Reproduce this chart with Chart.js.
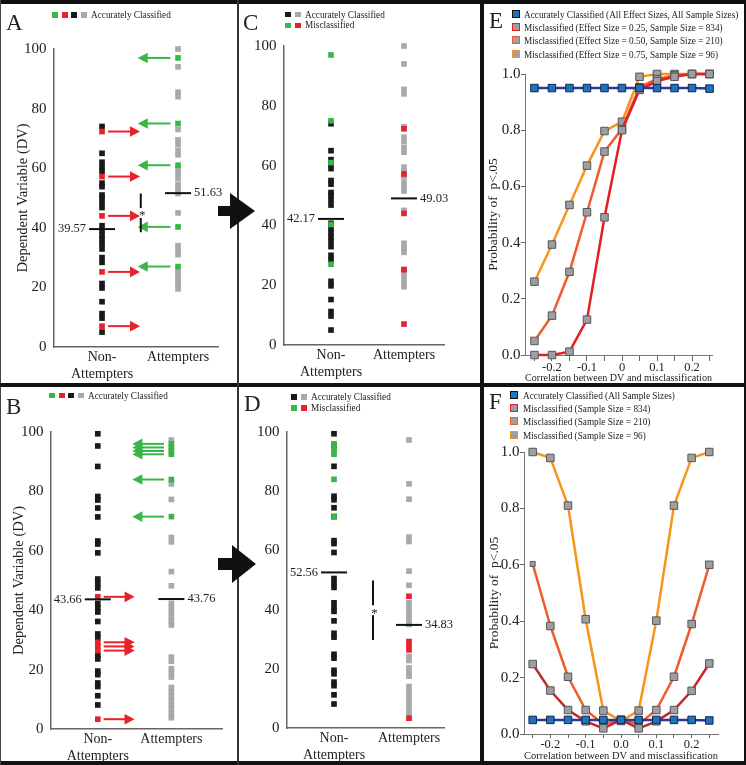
<!DOCTYPE html>
<html>
<head>
<meta charset="utf-8">
<script src="https://cdn.jsdelivr.net/npm/chart.js@4.4.1/dist/chart.umd.min.js"></script>
<style>
  body { margin: 0; background: #fff; }
  #fig { position: relative; width: 746px; height: 765px; overflow: hidden; font-family: "Liberation Serif", serif; color: #222; }
  #fig canvas { position: absolute; }
  .rule { position: absolute; background: #111; z-index: 3; }
  .letter { position: absolute; font-size: 23px; line-height: 23px; z-index: 4; }
  .lg { position: absolute; font-size: 11px; line-height: 11px; white-space: nowrap; z-index: 4; transform: scaleX(0.84); transform-origin: 0 0; }
  .sq { position: absolute; width: 5.5px; height: 5.5px; z-index: 4; }
  .sw { position: absolute; width: 6px; height: 6px; z-index: 4; border: 1.5px solid; }
</style>
</head>
<body>
<div id="fig">
  <canvas id="chartA" width="236" height="379" style="left:1px;top:4px"></canvas>
  <canvas id="chartC" width="241" height="379" style="left:239px;top:4px"></canvas>
  <canvas id="chartE" width="260" height="379" style="left:484px;top:4px"></canvas>
  <canvas id="chartB" width="236" height="374" style="left:1px;top:387px"></canvas>
  <canvas id="chartD" width="241" height="374" style="left:239px;top:387px"></canvas>
  <canvas id="chartF" width="260" height="374" style="left:484px;top:387px"></canvas>

  <!-- panel frame -->
  <div class="rule" style="left:0;top:0;width:746px;height:4px"></div>
  <div class="rule" style="left:0;top:761px;width:746px;height:4px"></div>
  <div class="rule" style="left:0;top:0;width:1px;height:765px;background:#444"></div>
  <div class="rule" style="left:744px;top:0;width:2px;height:765px"></div>
  <div class="rule" style="left:0;top:383px;width:746px;height:4px"></div>
  <div class="rule" style="left:237px;top:0;width:2px;height:765px;background:#333"></div>
  <div class="rule" style="left:480px;top:0;width:4px;height:765px"></div>

  <svg style="position:absolute;left:0;top:0;z-index:5" width="746" height="765">
    <polygon points="218,206 230,206 230,193 255,211 230,229 230,216 218,216" fill="#111"/>
    <polygon points="218,558 232,558 232,545 256,564 232,583 232,570 218,570" fill="#111"/>
  </svg>

  <div class="letter" style="left:6px;top:10.7px">A</div>
  <div class="letter" style="left:243px;top:10.7px">C</div>
  <div class="letter" style="left:489px;top:8.7px">E</div>
  <div class="letter" style="left:6px;top:395.4px">B</div>
  <div class="letter" style="left:244px;top:392px">D</div>
  <div class="letter" style="left:489px;top:390.4px">F</div>

  <!-- legend A -->
  <div class="sq" style="left:52px;top:12px;background:#39b54a"></div>
  <div class="sq" style="left:62px;top:12px;background:#e8212b"></div>
  <div class="sq" style="left:71px;top:12px;background:#1a1a1a"></div>
  <div class="sq" style="left:81px;top:12px;background:#a7a9ac"></div>
  <div class="lg" style="left:91px;top:9px">Accurately Classified</div>
  <!-- legend C -->
  <div class="sq" style="left:285px;top:11.5px;background:#1a1a1a"></div>
  <div class="sq" style="left:295px;top:11.5px;background:#a7a9ac"></div>
  <div class="lg" style="left:305px;top:8.5px">Accurately Classified</div>
  <div class="sq" style="left:285px;top:22.5px;background:#39b54a"></div>
  <div class="sq" style="left:295px;top:22.5px;background:#e8212b"></div>
  <div class="lg" style="left:305px;top:19px">Misclassified</div>
  <!-- legend B -->
  <div class="sq" style="left:49px;top:392.5px;background:#39b54a"></div>
  <div class="sq" style="left:59px;top:392.5px;background:#e8212b"></div>
  <div class="sq" style="left:68px;top:392.5px;background:#1a1a1a"></div>
  <div class="sq" style="left:78px;top:392.5px;background:#a7a9ac"></div>
  <div class="lg" style="left:88px;top:389.5px">Accurately Classified</div>
  <!-- legend D -->
  <div class="sq" style="left:291px;top:394px;background:#1a1a1a"></div>
  <div class="sq" style="left:301px;top:394px;background:#a7a9ac"></div>
  <div class="lg" style="left:311px;top:391px">Accurately Classified</div>
  <div class="sq" style="left:291px;top:405px;background:#39b54a"></div>
  <div class="sq" style="left:301px;top:405px;background:#e8212b"></div>
  <div class="lg" style="left:311px;top:402px">Misclassified</div>
  <!-- legend E -->
  <div class="sw" style="left:512px;top:9.5px;background:#1c75bc;border-color:#111"></div>
  <div class="lg" style="left:524px;top:8.5px">Accurately Classified (All Effect Sizes, All Sample Sizes)</div>
  <div class="sw" style="left:512px;top:22.5px;background:#9d9fa2;border-color:#e41e26"></div>
  <div class="lg" style="left:524px;top:21.5px">Misclassified (Effect Size = 0.25, Sample Size = 834)</div>
  <div class="sw" style="left:512px;top:36px;background:#9d9fa2;border-color:#f15a29"></div>
  <div class="lg" style="left:524px;top:35px">Misclassified (Effect Size = 0.50, Sample Size = 210)</div>
  <div class="sw" style="left:512px;top:49.5px;background:#9d9fa2;border-color:#f7941d"></div>
  <div class="lg" style="left:524px;top:48.5px">Misclassified (Effect Size = 0.75, Sample Size = 96)</div>
  <!-- legend F -->
  <div class="sw" style="left:510px;top:390.5px;background:#1c75bc;border-color:#111"></div>
  <div class="lg" style="left:523px;top:389.5px">Accurately Classified (All Sample Sizes)</div>
  <div class="sw" style="left:510px;top:403.5px;background:#9d9fa2;border-color:#e41e26"></div>
  <div class="lg" style="left:523px;top:402.5px">Misclassified (Sample Size = 834)</div>
  <div class="sw" style="left:510px;top:417px;background:#9d9fa2;border-color:#f15a29"></div>
  <div class="lg" style="left:523px;top:416px">Misclassified (Sample Size = 210)</div>
  <div class="sw" style="left:510px;top:430.5px;background:#9d9fa2;border-color:#f7941d"></div>
  <div class="lg" style="left:523px;top:429.5px">Misclassified (Sample Size = 96)</div>
</div>

<script>
// strip plots: groups and DV values
const groupX = [1, 2];
const groupLabels = [['Non-', 'Attempters'], 'Attempters'];

// panel A: original classification (red = misclassified non-attempters, green = misclassified attempters)
const nonAttBlackA = [74, 65, 62, 60.5, 59, 55, 53.8, 51, 50, 48.5, 46.8, 40.7, 39.1, 37.6, 36.1, 34.6, 32.9, 30, 28.4, 21.3, 19.8, 15.2, 11.2, 9.7, 5];
const nonAttRedA = [72.3, 57.2, 44, 25.2, 7];
const attGrayA = [100, 94, 85.5, 84, 73, 69.5, 68, 66, 64.5, 59.5, 58, 56.5, 54.5, 53, 51.5, 45, 34, 32.5, 31, 25.3, 23.8, 22.3, 20.8, 19.5];
const attGreenA = [97, 75, 61, 40.3, 27];
const meansA = [39.57, 51.63];
const meansC = [42.17, 49.03];
const sigA = [38.5, 51.5];

// panel B
const nonAttBlackB = [99.4, 95.3, 88.4, 78.3, 77.1, 74.4, 71.4, 63.3, 62.3, 59.3, 50.5, 49, 47.5, 42.3, 40.8, 39.4, 36.2, 32, 30.7, 24.9, 23.6, 19.5, 18.3, 15.5, 14.3, 11.2, 8.1];
const nonAttRedB = [44.5, 29.2, 27.8, 26.4, 3.3];
const attGrayB = [97.3, 82.5, 77.3, 64.5, 63, 53, 48.2, 42.3, 40.8, 39.3, 37.8, 36.3, 35, 24.2, 22.8, 20.3, 18.8, 17.5, 14, 12.5, 11, 9.5, 8, 6.5, 5, 3.8];
const attGreenB = [96, 94.8, 93.6, 92.5, 84, 71.5];
const meansB = [43.66, 43.76];
const meansD = [52.56, 34.83];
const sigD = [29.7, 49.8];

// simulation panels
const corrX = [-0.25, -0.2, -0.15, -0.1, -0.05, 0, 0.05, 0.1, 0.15, 0.2, 0.25];
const eAccurate = [0.95, 0.95, 0.95, 0.95, 0.95, 0.95, 0.95, 0.95, 0.95, 0.95, 0.948];
const eMis834 = [0.0, 0.0, 0.012, 0.126, 0.49, 0.80, 0.943, 0.975, 0.99, 1.0, 1.0];
const eMis210 = [0.05, 0.14, 0.296, 0.508, 0.724, 0.805, 0.953, 0.982, 0.995, 1.0, 1.0];
const eMis96 = [0.261, 0.393, 0.534, 0.674, 0.797, 0.83, 0.99, 1.0, 1.0, 1.0, 1.0];
const fAccurate = [0.05, 0.05, 0.05, 0.05, 0.05, 0.05, 0.05, 0.05, 0.05, 0.05, 0.048];
const fMis834 = [0.248, 0.154, 0.085, 0.045, 0.02, 0.05, 0.02, 0.045, 0.085, 0.153, 0.25];
const fMis210 = [0.603, 0.383, 0.203, 0.085, 0.035, 0.05, 0.035, 0.085, 0.203, 0.39, 0.60];
const fMis96 = [1.0, 0.979, 0.81, 0.407, 0.083, 0.046, 0.083, 0.402, 0.81, 0.979, 1.0];
const probTicks = [0, 0.2, 0.4, 0.6, 0.8, 1.0];

const GREEN = '#39b54a', RED = '#e8212b', BLACK = '#1a1a1a', GRAY = '#a7a9ac';
const NAVY = '#2b3990', BLUE = '#1c75bc', MARK = '#9d9fa2';
const LINE834 = '#e41e26', LINE210 = '#f15a29', LINE96 = '#f7941d';
const SERIF = '"Liberation Serif", serif';

Chart.defaults.font.family = SERIF;
Chart.defaults.color = '#222';

const extras = {};

// arrows, mean labels and significance bar on the strip plots
const stripExtras = {
    id: 'stripExtras',
    afterDatasetsDraw(chart) {
        const ex = extras[chart.canvas.id];
        if (!ex) return;
        const {ctx} = chart;
        const x = chart.scales.x, y = chart.scales.y;
        ctx.save();
        ex.arrows.forEach(a => {
            const x1 = x.getPixelForValue(a.from), x2 = x.getPixelForValue(a.to);
            const py = y.getPixelForValue(a.y);
            const dir = Math.sign(x2 - x1);
            ctx.strokeStyle = a.color;
            ctx.fillStyle = a.color;
            ctx.lineWidth = 2;
            ctx.beginPath();
            ctx.moveTo(x1, py);
            ctx.lineTo(x2 - dir * 9, py);
            ctx.stroke();
            ctx.beginPath();
            ctx.moveTo(x2, py);
            ctx.lineTo(x2 - dir * 10, py - 5.3);
            ctx.lineTo(x2 - dir * 10, py + 5.3);
            ctx.closePath();
            ctx.fill();
        });
        ctx.fillStyle = '#222';
        ctx.font = '12.5px ' + SERIF;
        ctx.textBaseline = 'middle';
        ex.means.forEach((m, i) => {
            const px = x.getPixelForValue(groupX[i]), py = y.getPixelForValue(m);
            if (i === 0) {
                ctx.textAlign = 'right';
                ctx.fillText(m.toFixed(2), px - 16, py);
            } else {
                ctx.textAlign = 'left';
                ctx.fillText(m.toFixed(2), px + 16, py);
            }
        });
        if (ex.sig) {
            const sx = x.getPixelForValue(ex.sigX);
            const top = y.getPixelForValue(ex.sig[1]), bot = y.getPixelForValue(ex.sig[0]);
            const mid = (top + bot) / 2;
            ctx.strokeStyle = '#111';
            ctx.lineWidth = 2;
            ctx.beginPath();
            ctx.moveTo(sx, top); ctx.lineTo(sx, mid - 5);
            ctx.moveTo(sx, mid + 5); ctx.lineTo(sx, bot);
            ctx.stroke();
            ctx.font = '13px ' + SERIF;
            ctx.textAlign = 'center';
            ctx.fillText('*', sx + 1.5, mid + 3);
        }
        ctx.restore();
    }
};

function squares(values, gx, color) {
    return {
        data: values.map(v => ({x: gx, y: v})),
        pointStyle: 'rect', pointRadius: 4, borderWidth: 0,
        backgroundColor: color, pointBackgroundColor: color, clip: false
    };
}

function stripChart(id, g, sets, means, yTitle) {
    const yW = g.area.l - g.canvas.x;
    const xH = g.canvas.y + g.canvas.h - g.area.b;
    const datasets = [{
        data: means.map((m, i) => ({x: groupX[i], y: m})),
        pointStyle: 'line', pointRadius: 13, borderWidth: 2,
        borderColor: '#111', pointBorderColor: '#111', clip: false
    }].concat(sets);
    new Chart(document.getElementById(id), {
        type: 'scatter',
        data: {datasets: datasets},
        plugins: [stripExtras],
        options: {
            responsive: false, animation: false, events: [],
            layout: {padding: {left: 0, bottom: 0, top: g.area.t - g.canvas.y, right: g.canvas.x + g.canvas.w - g.area.r}},
            plugins: {legend: {display: false}, tooltip: {enabled: false}},
            scales: {
                x: {
                    type: 'linear', min: g.xmin, max: g.xmax,
                    afterBuildTicks: s => { s.ticks = groupX.map(v => ({value: v})); },
                    afterFit: s => { s.height = xH; s.paddingLeft = 0; s.paddingRight = 0; },
                    grid: {display: false, drawTicks: false},
                    border: {display: true, color: '#666', width: 1.5},
                    ticks: {callback: v => groupLabels[groupX.indexOf(v)], font: {size: 14}, padding: 2, maxRotation: 0, autoSkip: false}
                },
                y: {
                    min: 0, max: 100,
                    afterBuildTicks: s => { s.ticks = [0, 20, 40, 60, 80, 100].map(v => ({value: v})); },
                    afterFit: s => { s.width = yW; s.paddingTop = 0; s.paddingBottom = 0; },
                    grid: {display: false, drawTicks: false},
                    border: {display: true, color: '#666', width: 1.5},
                    ticks: {font: {size: 15}, padding: 7.5},
                    title: {display: !!yTitle, text: yTitle || '', font: {size: 14.5}, padding: {top: g.titlePad, bottom: 0}}
                }
            }
        }
    });
}

const redArrowX = [1.08, 1.5];
const greenArrowX = [1.9, 1.47];
function arrowsFor(red, green) {
    return red.map(v => ({y: v, from: redArrowX[0], to: redArrowX[1], color: RED}))
        .concat(green.map(v => ({y: v, from: greenArrowX[0], to: greenArrowX[1], color: GREEN})));
}

extras.chartA = {arrows: arrowsFor(nonAttRedA, attGreenA), means: meansA, sig: sigA, sigX: 1.51};
extras.chartC = {arrows: [], means: meansC};
extras.chartB = {arrows: arrowsFor(nonAttRedB, attGreenB), means: meansB};
extras.chartD = {arrows: [], means: meansD, sig: sigD, sigX: 1.52};

stripChart('chartA', {canvas: {x: 1, y: 4, w: 236, h: 379}, area: {l: 54, t: 49, r: 218, b: 347}, xmin: 0.368, xmax: 2.526, titlePad: 13.3},
    [squares(nonAttRedA, 1, RED), squares(attGreenA, 2, GREEN), squares(nonAttBlackA, 1, BLACK), squares(attGrayA, 2, GRAY)],
    meansA, 'Dependent Variable (DV)');
stripChart('chartC', {canvas: {x: 239, y: 4, w: 241, h: 379}, area: {l: 284, t: 46, r: 444, b: 345}, xmin: 0.356, xmax: 2.548, titlePad: 0},
    [squares(attGreenA, 1, GREEN), squares(nonAttRedA, 2, RED), squares(nonAttBlackA, 1, BLACK), squares(attGrayA, 2, GRAY)],
    meansC, null);
stripChart('chartB', {canvas: {x: 1, y: 387, w: 236, h: 374}, area: {l: 51, t: 432, r: 230, b: 729}, xmin: 0.364, xmax: 2.688, titlePad: 9.3},
    [squares(nonAttRedB, 1, RED), squares(attGreenB, 2, GREEN), squares(nonAttBlackB, 1, BLACK), squares(attGrayB, 2, GRAY)],
    meansB, 'Dependent Variable (DV)');
stripChart('chartD', {canvas: {x: 239, y: 387, w: 241, h: 374}, area: {l: 287, t: 432, r: 444, b: 728}, xmin: 0.373, xmax: 2.467, titlePad: 0},
    [squares(attGreenB, 1, GREEN), squares(nonAttRedB, 2, RED), squares(nonAttBlackB, 1, BLACK), squares(attGrayB, 2, GRAY)],
    meansD, null);

function series(values, line, fill, border, radius) {
    return {
        data: values.map((v, i) => ({x: corrX[i], y: v})),
        borderColor: line, borderWidth: 2.5, tension: 0, fill: false,
        pointStyle: 'rect', pointRadius: radius || 5.3,
        pointBackgroundColor: fill, pointBorderColor: border, pointBorderWidth: 1, clip: false
    };
}

function probChart(id, g, datasets, zeroLabel) {
    const yW = g.area.l - g.canvas.x;
    const xH = g.canvas.y + g.canvas.h - g.area.b;
    new Chart(document.getElementById(id), {
        type: 'line',
        data: {datasets: datasets},
        options: {
            responsive: false, animation: false, events: [],
            layout: {padding: {left: 0, bottom: 0, top: g.area.t - g.canvas.y, right: g.canvas.x + g.canvas.w - g.area.r}},
            plugins: {legend: {display: false}, tooltip: {enabled: false}},
            scales: {
                x: {
                    type: 'linear', min: g.xmin, max: g.xmax,
                    afterBuildTicks: s => { s.ticks = corrX.map(v => ({value: v})); },
                    afterFit: s => { s.height = xH; s.paddingLeft = 0; s.paddingRight = 0; },
                    grid: {display: true, drawOnChartArea: false, drawTicks: true, tickLength: g.xTick, color: '#666'},
                    border: {display: true, color: '#777', width: 1},
                    ticks: {
                        callback: v => {
                            const t = Math.round(v * 20);
                            if (t % 2 !== 0) return '';
                            return t === 0 ? zeroLabel : (t / 20).toFixed(1);
                        },
                        font: {size: 12.5, lineHeight: 1}, padding: 0, maxRotation: 0, autoSkip: false
                    },
                    title: {display: true, text: 'Correlation between DV and misclassification', font: {size: 10.5, lineHeight: 1}, padding: {top: 0, bottom: g.xTitlePad}}
                },
                y: {
                    min: 0, max: 1,
                    afterBuildTicks: s => { s.ticks = probTicks.map(v => ({value: v})); },
                    afterFit: s => { s.width = yW; s.paddingTop = 0; s.paddingBottom = 0; },
                    grid: {display: true, drawOnChartArea: false, drawTicks: true, tickLength: 4, color: '#666'},
                    border: {display: true, color: '#777', width: 1},
                    ticks: {callback: v => v.toFixed(1), font: {size: 15}, padding: 0.5},
                    title: {display: true, text: 'Probability of  p<.05', font: {size: 13.5}, padding: {top: g.titlePad, bottom: 0}}
                }
            }
        }
    });
}

probChart('chartE', {canvas: {x: 484, y: 4, w: 260, h: 379}, area: {l: 525, t: 74, r: 712, b: 355}, xmin: -0.277, xmax: 0.257, titlePad: 0.9, xTick: 6, xTitlePad: 0}, [
    series(eAccurate, NAVY, BLUE, '#1b1f4f'),
    series(eMis834, LINE834, MARK, '#555'),
    series(eMis210, LINE210, MARK, '#555'),
    series(eMis96, LINE96, MARK, '#555')
], '0');

probChart('chartF', {canvas: {x: 484, y: 387, w: 260, h: 374}, area: {l: 524, t: 452, r: 718, b: 734}, xmin: -0.2746, xmax: 0.2746, titlePad: 1.9, xTick: 4, xTitlePad: 0}, [
    series(fAccurate, NAVY, BLUE, '#1b1f4f'),
    series(fMis834, '#c1272d', MARK, '#555'),
    series(fMis210, LINE210, MARK, '#555', [3.5, 5.3, 5.3, 5.3, 5.3, 5.3, 5.3, 5.3, 5.3, 5.3, 5.3]),
    series(fMis96, LINE96, MARK, '#555')
], '0.0');
</script>
</body>
</html>
